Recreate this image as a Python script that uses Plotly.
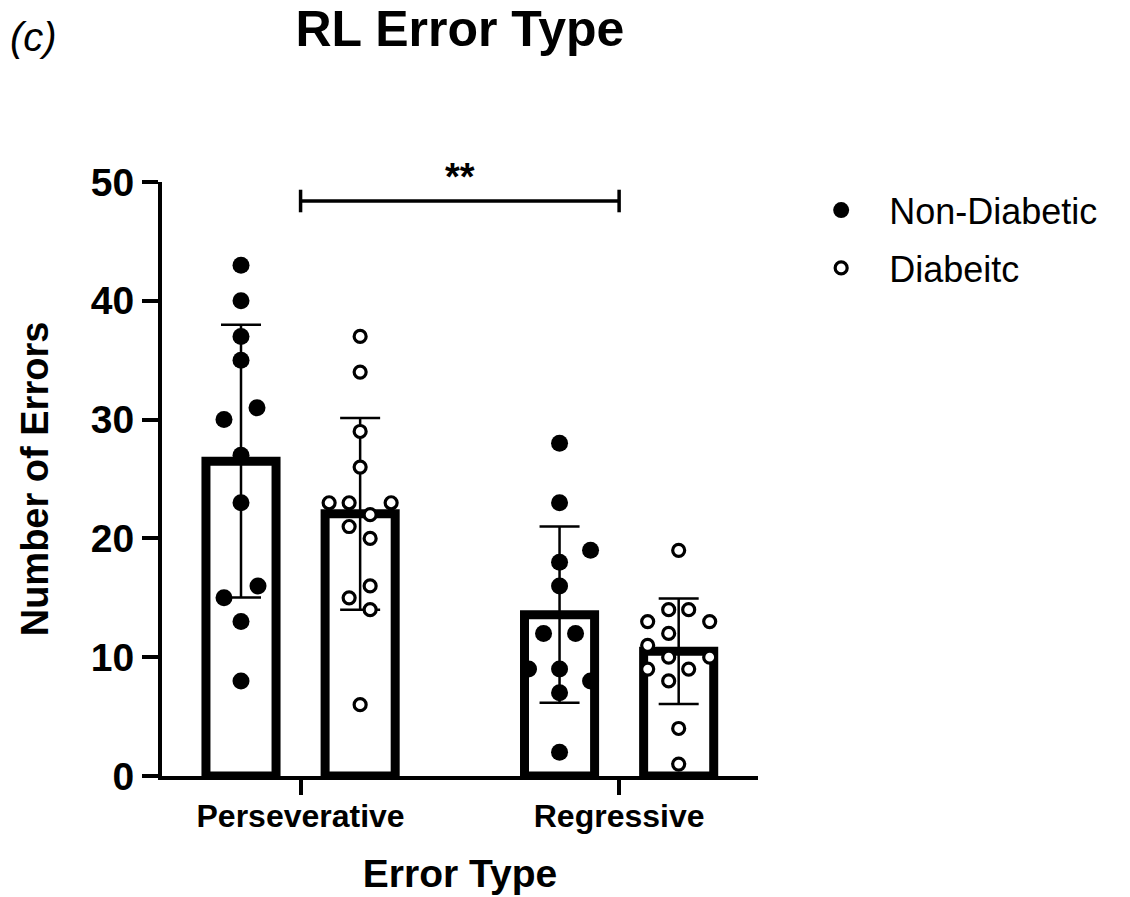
import numpy as np
import plotly.graph_objects as go

# ---------------- data ----------------
categories = ["Perseverative", "Regressive"]
series_names = ["Non-Diabetic", "Diabeitc"]

nd_perseverative = [43, 40, 37, 35, 31, 30, 27, 23, 16, 15, 13, 8]
nd_regressive = [28, 23, 19, 18, 16, 12, 12, 9, 9, 8, 7, 2]
d_perseverative = [37, 34, 29, 26, 23, 23, 23, 22, 21, 20, 16, 15, 14, 6]
d_regressive = [19, 14, 14, 13, 13, 12, 11, 10, 10, 9, 9, 8, 4, 1]

y_ticks = [0, 10, 20, 30, 40, 50]
significance_label = "**"

# ---------------- layout helpers (positions, not data) ----------------
PX_PER_UNIT = 318.5          # horizontal pixels per category step
BAR_OFFSET = 0.187           # bar centre offset from category centre
BAR_WIDTH = 0.22
# horizontal swarm offsets in pixels for each point
jit_nd_pers = [0, 0, 0, 0, 16, -17, 0, 0, 17, -17, 0, 0]
jit_nd_reg = [0, 0, 31, 0, 0, -16, 16, -31, 0, 31, 0, 0]
jit_d_pers = [0, 0, 0, 0, -31, -11, 31, 10, -11, 10, 10, -11, 10, 0]
jit_d_reg = [0, -10, 10, -31, 31, -10, -31, -10, 31, -31, 10, -10, 0, 0]

groups_nd = [nd_perseverative, nd_regressive]
groups_d = [d_perseverative, d_regressive]
jits_nd = [jit_nd_pers, jit_nd_reg]
jits_d = [jit_d_pers, jit_d_reg]

means_nd = [float(np.mean(g)) for g in groups_nd]
means_d = [float(np.mean(g)) for g in groups_d]
sd_nd = [float(np.std(g, ddof=1)) for g in groups_nd]
sd_d = [float(np.std(g, ddof=1)) for g in groups_d]

cat_x = list(range(len(categories)))
FONT = "Liberation Sans, Arial, Helvetica, sans-serif"

fig = go.Figure()

for name, means, sds, sign in [(series_names[0], means_nd, sd_nd, -1),
                               (series_names[1], means_d, sd_d, 1)]:
    fig.add_trace(go.Bar(
        x=[c + sign * BAR_OFFSET for c in cat_x], y=means, width=BAR_WIDTH,
        marker=dict(color="white", line=dict(color="black", width=9)),
        error_y=dict(type="data", array=sds, visible=True, color="black",
                     thickness=2.5, width=20),
        showlegend=False, name=name, hoverinfo="skip"))


def points(groups, jits, sign):
    xs, ys = [], []
    for c, g, j in zip(cat_x, groups, jits):
        for v, dj in zip(g, j):
            xs.append(c + sign * BAR_OFFSET + dj / PX_PER_UNIT)
            ys.append(v)
    return xs, ys


xs, ys = points(groups_nd, jits_nd, -1)
fig.add_trace(go.Scatter(
    x=xs, y=ys, mode="markers", name=series_names[0], legendgroup="nd",
    marker=dict(symbol="circle", size=17, color="black"),
    cliponaxis=False))
xs, ys = points(groups_d, jits_d, 1)
fig.add_trace(go.Scatter(
    x=xs, y=ys, mode="markers", name=series_names[1], legendgroup="d",
    marker=dict(symbol="circle", size=12, color="white",
                line=dict(color="black", width=3.2)),
    cliponaxis=False))

# significance bracket between the two categories
br_y = 48.4
fig.add_shape(type="line", x0=cat_x[0], x1=cat_x[1], y0=br_y, y1=br_y,
              line=dict(color="black", width=3.5))
for cx in cat_x:
    fig.add_shape(type="line", x0=cx, x1=cx, y0=br_y - 0.95, y1=br_y + 0.95,
                  line=dict(color="black", width=3.5))
fig.add_annotation(x=(cat_x[0] + cat_x[1]) / 2, y=br_y + 0.1, text=significance_label,
                   showarrow=False, yanchor="bottom",
                   font=dict(family=FONT, size=38, color="black", weight="bold"))

fig.add_annotation(xref="paper", yref="paper", x=-0.258, y=1.244,
                   text="<i>(c)</i>", showarrow=False, xanchor="left",
                   yanchor="middle",
                   font=dict(family=FONT, size=40, color="black"))

fig.update_layout(
    width=1130, height=897,
    margin=dict(l=162, r=372, t=182, b=121),
    plot_bgcolor="white", paper_bgcolor="white",
    barmode="overlay",
    title=dict(text="<b>RL Error Type</b>", x=0.407, xanchor="center",
               y=0.968, yanchor="middle",
               font=dict(family=FONT, size=50, color="black")),
    font=dict(family=FONT, color="black"),
    legend=dict(x=1.059, y=1.003, xanchor="left", yanchor="top",
                font=dict(family=FONT, size=36, color="black"),
                itemwidth=86, tracegroupgap=8, bgcolor="rgba(0,0,0,0)"),
    xaxis=dict(range=[-0.435, 1.436], tickvals=cat_x, ticktext=categories,
               automargin=False, ticklabelstandoff=-6,
               showline=True, linecolor="black", linewidth=4,
               ticks="outside", ticklen=15, tickwidth=4, tickcolor="black",
               showgrid=False, zeroline=False,
               tickfont=dict(family=FONT, size=32, color="black", weight="bold"),
               title=dict(text="Error Type", standoff=27,
                          font=dict(family=FONT, size=39, color="black", weight="bold"))),
    yaxis=dict(range=[0, 50], tickvals=y_ticks, automargin=False,
               showline=True, linecolor="black", linewidth=4,
               ticks="outside", ticklen=16, tickwidth=4, tickcolor="black",
               showgrid=False, zeroline=False,
               tickfont=dict(family=FONT, size=39, color="black", weight="bold"),
               title=dict(text="Number of Errors", standoff=32,
                          font=dict(family=FONT, size=38, color="black", weight="bold"))),
)

fig.write_html("out.html")
